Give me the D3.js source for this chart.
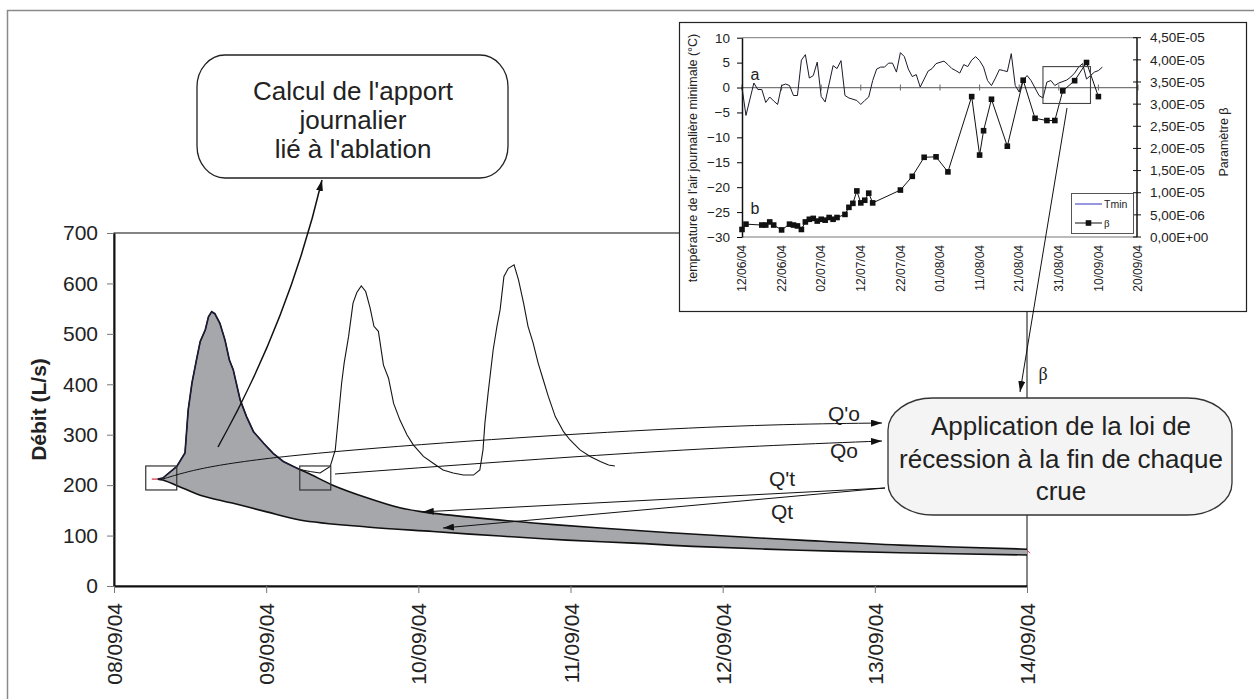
<!DOCTYPE html>
<html><head><meta charset="utf-8">
<script src="https://cdn.jsdelivr.net/npm/d3@7/dist/d3.min.js"></script>
<style>
html,body{margin:0;padding:0;background:#fff;}
svg{display:block;font-family:"Liberation Sans",Arial,Helvetica,sans-serif;}
</style></head><body>
<svg id="chart" width="1254" height="699"></svg>
<script>
// ---------------- DATA ----------------
// Main chart (discharge)
const mainDateLabels = ["08/09/04","09/09/04","10/09/04","11/09/04","12/09/04","13/09/04","14/09/04"];
const mainYTicks = [0,100,200,300,400,500,600,700];
// hydrograph: hours after 08/09/04 00:00, discharge L/s
const flowHours = [6.9,7.7,9.9,11.2,11.7,12.3,13.0,13.6,14.4,14.9,15.4,15.9,16.7,17.5,18.2,18.8,19.9,20.9,22.0,23.6,25.1,26.7,28.3,29.3,
  30.9,32.5,34.1,34.9,35.4,35.9,36.3,37.0,37.7,38.3,39.0,39.7,40.4,41.0,41.7,42.5,43.3,44.1,45.1,46.2,47.2,48.8,50.4,51.9,53.5,55.1,56.7,
  57.7,58.2,58.5,59.0,59.8,60.4,60.9,61.5,62.2,63.1,63.8,64.6,65.3,66.1,66.9,67.7,68.5,69.6,70.9,71.9,73.5,75.1,76.7,78.0,79.0];
const flowValues = [212,214,237,264,349,403,448,485,508,534,544,540,521,488,448,429,369,336,306,283,263,247,237,231,
  227,224,237,270,336,402,442,495,561,582,595,584,551,515,505,438,412,362,329,300,280,257,243,230,224,220,220,
  230,270,323,382,468,515,548,614,630,637,607,561,515,482,442,409,376,336,306,290,270,257,247,240,238];
const flood1EndHour = 29.3;
// recession curves (Q't upper, Qt lower)
const upperRecHours  = [29.3,30.9,34.5,39.9,45.1,48.7,55.7,66.1,76.7,92.4,108.2,124.0,144.0];
const upperRecValues = [231,222,200,175,155,147,137,125,115,102,91,81,73];
const lowerRecHours  = [6.9,7.7,10.9,13.6,18.8,24.1,29.3,39.9,50.3,60.9,71.4,81.9,92.4,108.2,124.0,144.0];
const lowerRecValues = [212,210,194,180,164,147,131,117,108,99,91,85,78,71,66,61.5];

// Inset chart
const insetDateLabels = ["12/06/04","22/06/04","02/07/04","12/07/04","22/07/04","01/08/04","11/08/04","21/08/04","31/08/04","10/09/04","20/09/04"];
const insetLeftTicks = [10,5,0,-5,-10,-15,-20,-25,-30];
const insetRightTickLabels = ["4,50E-05","4,00E-05","3,50E-05","3,00E-05","2,50E-05","2,00E-05","1,50E-05","1,00E-05","5,00E-06","0,00E+00"];
const tminDates = ["12/06","13/06","15/06","16/06","17/06","18/06","19/06","20/06","21/06","22/06","23/06","24/06","25/06","26/06","27/06","28/06","29/06","30/06",
  "01/07","02/07","03/07","05/07","06/07","07/07","08/07","09/07","11/07","12/07","13/07","14/07","15/07","16/07","17/07","18/07","19/07","20/07","21/07","22/07","23/07","24/07","25/07","26/07","27/07","28/07","29/07","30/07","31/07",
  "02/08","03/08","04/08","05/08","06/08","07/08","08/08","09/08","10/08","11/08","12/08","13/08","14/08","15/08","16/08","17/08","18/08","19/08","20/08","21/08","22/08","23/08","24/08","25/08","26/08","27/08","28/08","29/08","30/08","31/08",
  "02/09","03/09","04/09","05/09","06/09","07/09","08/09","09/09","10/09","11/09"];
const tminValues = [0.0,-5.6,0.9,-0.4,-0.4,-3.0,-1.9,-2.7,-3.4,0.4,0.7,0.4,-1.6,-1.6,5.5,6.6,1.9,2.4,
  5.1,-1.8,-2.9,4.4,3.8,5.4,-1.6,-2.1,-2.6,-3.4,-2.6,-1.9,1.4,3.7,4.1,4.1,4.9,4.9,3.1,7.0,6.2,3.7,2.2,2.6,0.1,1.7,3.3,3.8,4.8,
  5.3,4.6,3.8,3.4,2.9,4.6,4.2,5.5,6.2,5.4,4.1,1.4,0.4,1.9,3.6,3.4,3.2,6.8,0.4,-0.9,1.5,2.4,1.4,-0.1,-1.6,-2.1,1.1,1.4,0.4,0.9,
  1.5,2.1,2.9,4.1,4.8,1.7,2.4,3.1,3.4,4.1];
const betaDates = ["12/06","13/06","17/06","18/06","19/06","20/06","22/06","24/06","25/06","26/06","27/06","28/06","29/06","30/06",
  "01/07","02/07","03/07","04/07","05/07","06/07","08/07","09/07","10/07","11/07","12/07","13/07","14/07","15/07","22/07","25/07","28/07","31/07",
  "03/08","09/08","11/08","12/08","14/08","18/08","22/08","25/08","28/08","30/08","01/09","04/09","07/09","10/09"];
const betaValuesE6 = [1.7,2.9,2.7,2.7,3.4,2.7,1.6,2.9,2.7,2.5,1.7,3.4,4.0,4.2,
  3.6,4.0,3.8,4.4,4.0,4.4,5.1,6.7,7.6,10.4,7.7,8.3,9.9,7.7,10.6,13.7,18.0,18.1,
  14.7,31.7,18.5,24.0,31.1,20.5,35.4,26.8,26.3,26.3,33.0,35.3,39.4,31.7];

// ---------------- DRAWING ----------------
const FONT = "Liberation Sans, Arial, Helvetica, sans-serif";
const svg = d3.select("#chart");
const defs = svg.append("defs");
defs.append("marker").attr("id","ah").attr("viewBox","0 0 10 10").attr("refX",10).attr("refY",5)
  .attr("markerWidth",11).attr("markerHeight",7).attr("markerUnits","userSpaceOnUse")
  .attr("preserveAspectRatio","none").attr("orient","auto")
  .append("path").attr("d","M0,0L10,5L0,10z").attr("fill","#111");

// outer frame (right and bottom edges fall outside the picture)
svg.append("rect").attr("x",7.5).attr("y",10.5).attr("width",1260).attr("height",720)
  .attr("fill","none").attr("stroke","#8a8a8a").attr("stroke-width",1.5);

const parseMain = d3.timeParse("%d/%m/%y");
const t0 = parseMain(mainDateLabels[0]);
const hDate = h => new Date(t0.getTime() + h*3600e3);
const x = d3.scaleTime().domain([parseMain(mainDateLabels[0]), parseMain(mainDateLabels[mainDateLabels.length-1])]).range([114,1027]);
const y = d3.scaleLinear().domain([0,700]).range([586,233]);

// plot frame
svg.append("rect").attr("x",x.range()[0]).attr("y",y(700)).attr("width",x.range()[1]-x.range()[0]).attr("height",y(0)-y(700))
  .attr("fill","none").attr("stroke","#333").attr("stroke-width",1.2);

const flowPts = flowHours.map((h,i)=>[x(hDate(h)), y(flowValues[i])]);
const flood1Pts = flowPts.filter((p,i)=>flowHours[i] <= flood1EndHour);
const upPts = upperRecHours.map((h,i)=>[x(hDate(h)), y(upperRecValues[i])]);
const loPts = lowerRecHours.map((h,i)=>[x(hDate(h)), y(lowerRecValues[i])]);
const lin = d3.line();
const smooth = d3.line().curve(d3.curveCatmullRom.alpha(0.5));
const fillPath = lin(flood1Pts) + "L" + smooth(upPts).slice(1) + "L" + smooth(loPts.slice().reverse()).slice(1) + "Z";
svg.append("path").attr("d",fillPath).attr("fill","#a6a7ab").attr("stroke","none");
svg.append("path").attr("d",smooth(upPts)).attr("fill","none").attr("stroke","#111").attr("stroke-width",1.6);
svg.append("path").attr("d",smooth(loPts)).attr("fill","none").attr("stroke","#111").attr("stroke-width",1.6);
svg.append("path").attr("d",lin(flowPts)).attr("fill","none").attr("stroke","#151515").attr("stroke-width",1.1);
svg.append("path").attr("d",lin(flood1Pts)).attr("fill","none").attr("stroke","#1b1b33").attr("stroke-width",1.7);
// small red marks at start & end
svg.append("line").attr("x1",flowPts[0][0]-6).attr("x2",flowPts[0][0]).attr("y1",flowPts[0][1]).attr("y2",flowPts[0][1]).attr("stroke","#d23040").attr("stroke-width",1.2);
svg.append("line").attr("x1",upPts[upPts.length-1][0]).attr("x2",upPts[upPts.length-1][0]+3).attr("y1",upPts[upPts.length-1][1]+1).attr("y2",upPts[upPts.length-1][1]+4).attr("stroke","#d23040").attr("stroke-width",1);

// axes
const yAx = svg.append("g").attr("transform",`translate(${x.range()[0]},0)`)
  .call(d3.axisLeft(y).tickValues(mainYTicks).tickSize(7).tickSizeOuter(0).tickPadding(9).tickFormat(d3.format("d")));
yAx.attr("font-family",FONT).attr("font-size",21);
yAx.select(".domain").attr("stroke","#111").attr("stroke-width",2);
yAx.selectAll(".tick line").attr("stroke","#777");
yAx.selectAll("text").attr("fill","#222");

const xAx = svg.append("g").attr("transform",`translate(0,${y(0)})`)
  .call(d3.axisBottom(x).tickValues(mainDateLabels.map(parseMain)).tickSize(7).tickSizeOuter(0).tickFormat(d3.timeFormat("%d/%m/%y")));
xAx.attr("font-family",FONT).attr("font-size",21);
xAx.select(".domain").attr("stroke","#111").attr("stroke-width",2.2);
xAx.selectAll(".tick line").attr("stroke","#777");
xAx.selectAll("text").attr("transform","rotate(-90)").attr("x",-17).attr("y",0).attr("dy","0.36em")
  .attr("text-anchor","end").attr("fill","#222");

svg.append("text").attr("transform",`translate(39,${(y(0)+y(700))/2}) rotate(-90)`).attr("text-anchor","middle")
  .attr("dy","0.35em").attr("font-size",21).attr("font-weight","bold").attr("fill","#222").text("Débit (L/s)");

// highlight boxes
[0, flood1EndHour].forEach(h0=>{
  const cx = h0===0 ? flowPts[0][0] : x(hDate(h0));
  svg.append("rect").attr("x", h0===0 ? cx-12 : cx).attr("y",y(238)).attr("width",31).attr("height",24)
    .attr("fill","none").attr("stroke","#333").attr("stroke-width",1.2);
});

// arrows Q'o, Qo, Q't, Qt
const nat = d3.line().curve(d3.curveNatural);
svg.append("path").attr("d",nat([[163,479],[300,455],[650,430],[882,423]])).attr("fill","none").attr("stroke","#111").attr("stroke-width",1).attr("marker-end","url(#ah)");
svg.append("path").attr("d",nat([[335,474],[650,452],[882,441]])).attr("fill","none").attr("stroke","#111").attr("stroke-width",1).attr("marker-end","url(#ah)");
svg.append("line").attr("x1",885).attr("y1",488).attr("x2",x(hDate(48.7))).attr("y2",y(147)).attr("stroke","#111").attr("stroke-width",1).attr("marker-end","url(#ah)");
svg.append("line").attr("x1",885).attr("y1",488).attr("x2",443).attr("y2",528).attr("stroke","#111").attr("stroke-width",1).attr("marker-end","url(#ah)");
const qlab = [["Q'o",844,421],["Qo",844,458],["Q't",782,486],["Qt",782,519]];
qlab.forEach(d=>svg.append("text").attr("x",d[1]).attr("y",d[2]).attr("text-anchor","middle").attr("font-size",21).attr("fill","#222").text(d[0]));

// ---------- INSET ----------
svg.append("rect").attr("x",679.5).attr("y",22.5).attr("width",567).attr("height",289)
  .attr("fill","#fff").attr("stroke","#222").attr("stroke-width",1.2);
const parseIn = d3.timeParse("%d/%m/%y");
const x2 = d3.scaleTime().domain([parseIn(insetDateLabels[0]), parseIn(insetDateLabels[insetDateLabels.length-1])]).range([742,1138]);
const yL = d3.scaleLinear().domain([-30,10]).range([237,37.7]);
const yR = d3.scaleLinear().domain([0,45]).range([237,37.7]);
const g2 = svg.append("g").attr("font-family",FONT);
// plot borders
g2.append("line").attr("x1",742).attr("x2",1137).attr("y1",yL(10)).attr("y2",yL(10)).attr("stroke","#777").attr("stroke-width",1);
g2.append("line").attr("x1",742).attr("x2",1137).attr("y1",yL(-30)).attr("y2",yL(-30)).attr("stroke","#777").attr("stroke-width",1);
g2.append("line").attr("x1",742).attr("x2",1137).attr("y1",yL(0)).attr("y2",yL(0)).attr("stroke","#777").attr("stroke-width",1.2);
insetDateLabels.forEach(l=>{
  const xx = x2(parseIn(l));
  g2.append("line").attr("x1",xx).attr("x2",xx).attr("y1",yL(0)-3).attr("y2",yL(0)+3).attr("stroke","#666");
  g2.append("text").attr("transform",`translate(${xx},245) rotate(-90)`).attr("text-anchor","end").attr("dy","0.35em")
    .attr("font-size",12).attr("fill","#222").text(l);
});
// left axis
const lAx = g2.append("g").attr("transform","translate(742,0)")
  .call(d3.axisLeft(yL).tickValues(insetLeftTicks).tickSize(5).tickSizeOuter(0).tickPadding(7).tickFormat(d3.format("d")));
lAx.attr("font-family",FONT).attr("font-size",13.5);
lAx.select(".domain").attr("stroke","#111").attr("stroke-width",1.5);
lAx.selectAll("text").attr("fill","#222");
// right axis
const rg = g2.append("g");
rg.append("line").attr("x1",1137).attr("x2",1137).attr("y1",yR(45)).attr("y2",yR(0)).attr("stroke","#111").attr("stroke-width",1.5);
insetRightTickLabels.forEach((l,i)=>{
  const v = 45 - i*5;
  rg.append("line").attr("x1",1133).attr("x2",1141).attr("y1",yR(v)).attr("y2",yR(v)).attr("stroke","#111");
  rg.append("text").attr("x",1150).attr("y",yR(v)).attr("dy","0.35em").attr("font-size",13.5).attr("fill","#222").text(l);
});
g2.append("text").attr("transform",`translate(693,158) rotate(-90)`).attr("text-anchor","middle").attr("dy","0.35em")
  .attr("font-size",12.5).attr("fill","#222").text("température de l'air journalière minimale (°C)");
g2.append("text").attr("transform",`translate(1224,142) rotate(-90)`).attr("text-anchor","middle").attr("dy","0.35em")
  .attr("font-size",12.5).attr("fill","#222").text("Paramètre β");
// series
const pd = s => parseIn(s + "/04");
const tPts = tminDates.map((d,i)=>[x2(pd(d)), yL(tminValues[i])]);
g2.append("path").attr("d",lin(tPts)).attr("fill","none").attr("stroke","#1a1a2a").attr("stroke-width",1);
const bPts = betaDates.map((d,i)=>[x2(pd(d)), yR(betaValuesE6[i])]);
g2.append("path").attr("d",lin(bPts)).attr("fill","none").attr("stroke","#111").attr("stroke-width",1);
g2.selectAll("rect.bm").data(bPts).join("rect").attr("class","bm").attr("x",d=>d[0]-2.8).attr("y",d=>d[1]-2.8)
  .attr("width",5.6).attr("height",5.6).attr("fill","#111");
g2.append("text").attr("x",755).attr("y",80).attr("text-anchor","middle").attr("font-size",16).attr("fill","#222").text("a");
g2.append("text").attr("x",755).attr("y",214).attr("text-anchor","middle").attr("font-size",16).attr("fill","#222").text("b");
// legend
g2.append("rect").attr("x",1071.5).attr("y",193.5).attr("width",62).attr("height",40).attr("fill","#fff").attr("stroke","#555");
g2.append("line").attr("x1",1075).attr("x2",1102).attr("y1",204).attr("y2",204).attr("stroke","#3030c0");
g2.append("text").attr("x",1104).attr("y",204).attr("dy","0.35em").attr("font-size",10.5).attr("fill","#222").text("Tmin");
g2.append("line").attr("x1",1075).attr("x2",1102).attr("y1",223).attr("y2",223).attr("stroke","#111");
g2.append("rect").attr("x",1085.7).attr("y",220.2).attr("width",5.6).attr("height",5.6).attr("fill","#111");
g2.append("text").attr("x",1104).attr("y",223).attr("dy","0.35em").attr("font-size",11).attr("font-family","Liberation Serif, serif").attr("fill","#222").text("β");
// highlight rect in inset
const hx1 = x2(pd("27/08")), hx2 = x2(pd("08/09"));
g2.append("rect").attr("x",hx1).attr("y",yL(4.2)).attr("width",hx2-hx1).attr("height",yL(-3.2)-yL(4.2))
  .attr("fill","none").attr("stroke","#444").attr("stroke-width",1.1);
// β arrow
svg.append("line").attr("x1",1067).attr("y1",108).attr("x2",1020).attr("y2",392).attr("stroke","#111").attr("stroke-width",1).attr("marker-end","url(#ah)");
svg.append("text").attr("x",1043).attr("y",380).attr("text-anchor","middle").attr("font-size",18)
  .attr("font-family","Liberation Serif, Times New Roman, serif").attr("fill","#222").text("β");

// ---------- CALLOUTS ----------
// Calcul arrow
svg.append("path").attr("d","M218,447 Q289,320 322,180").attr("fill","none").attr("stroke","#111").attr("stroke-width",1.5).attr("marker-end","url(#ah)");
svg.append("rect").attr("x",197).attr("y",55).attr("width",311).attr("height",123).attr("rx",28).attr("ry",32)
  .attr("fill","#fff").attr("stroke","#222").attr("stroke-width",1.3);
["Calcul de l'apport","journalier","lié à l'ablation"].forEach((t,i)=>
  svg.append("text").attr("x",353).attr("y",100+i*29).attr("text-anchor","middle").attr("font-size",26).attr("fill","#222").text(t));
svg.append("rect").attr("x",888).attr("y",398).attr("width",344).attr("height",117).attr("rx",45).attr("ry",32)
  .attr("fill","#f4f4f4").attr("stroke","#333").attr("stroke-width",1.3);
["Application de la loi de","récession à la fin de chaque","crue"].forEach((t,i)=>
  svg.append("text").attr("x",1061).attr("y",435+i*32.5).attr("text-anchor","middle").attr("font-size",26).attr("fill","#222").text(t));
</script>
</body></html>
